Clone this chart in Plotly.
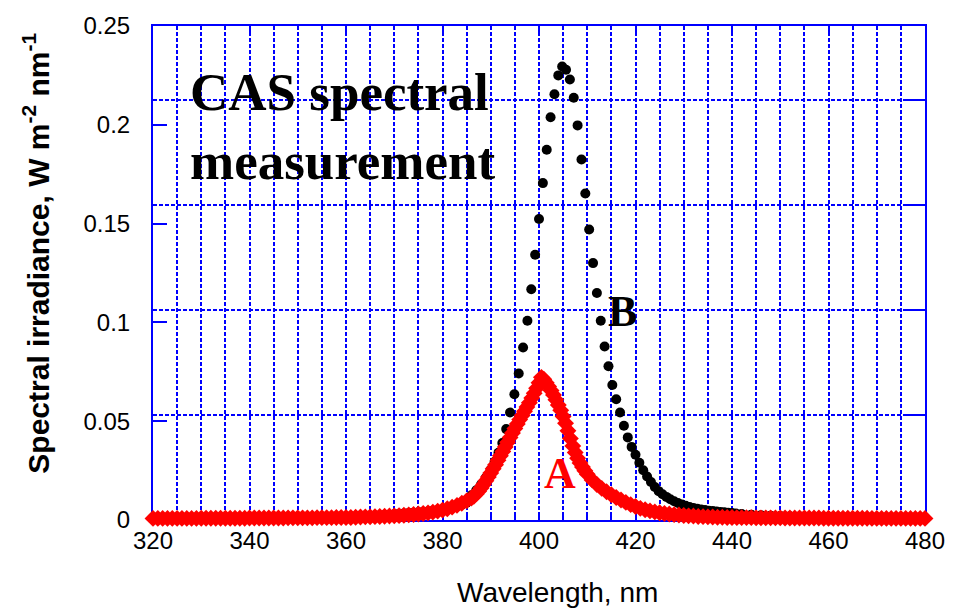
import plotly.graph_objects as go

# ---- Data ----
# Spectrum A (red diamonds)
wl_a = [320, 321, 322, 323, 324, 325, 326, 327, 328, 329,
        330, 331, 332, 333, 334, 335, 336, 337, 338, 339,
        340, 341, 342, 343, 344, 345, 346, 347, 348, 349,
        350, 351, 352, 353, 354, 355, 356, 357, 358, 359,
        360, 361, 362, 363, 364, 365, 366, 367, 368, 369,
        370, 371, 372, 373, 374,
        375, 376, 377, 378, 379, 380, 381, 382, 383, 384, 385,
        386, 386.5, 387, 387.5, 388, 388.5, 389, 389.5, 390, 390.5,
        391, 391.5, 392, 392.5, 393, 393.5, 394, 394.5, 395, 395.5,
        396, 396.5, 397, 397.5, 398, 398.5, 399, 399.5, 400, 400.5,
        401, 401.5, 402, 402.5, 403, 403.5, 404, 404.5, 405, 405.5,
        406, 406.5, 407, 407.5, 408, 408.5, 409, 409.5, 410,
        411, 412, 413, 414, 415, 416, 417, 418, 419, 420,
        421, 422, 423, 424, 425, 426, 427,
        428, 429, 430, 431, 432, 433, 434, 435, 436, 437, 438, 439, 440,
        441, 442, 443, 444, 445, 446, 447, 448, 449, 450,
        451, 452, 453, 454, 455, 456, 457, 458, 459, 460,
        461, 462, 463, 464, 465, 466, 467, 468, 469, 470,
        471, 472, 473, 474, 475, 476, 477, 478, 479, 480]
irr_a = [0.0008, 0.0008, 0.0008, 0.0008, 0.0008, 0.0008, 0.0008, 0.0008, 0.0008, 0.0008,
         0.0009, 0.0009, 0.0009, 0.0009, 0.0009, 0.0009, 0.0009, 0.0009, 0.0009, 0.0009,
         0.0010, 0.0010, 0.0010, 0.0010, 0.0010, 0.0010, 0.0010, 0.0010, 0.0011, 0.0011,
         0.0011, 0.0011, 0.0011, 0.0011, 0.0012, 0.0012, 0.0012, 0.0012, 0.0013, 0.0013,
         0.0013, 0.0013, 0.0014, 0.0015, 0.0016, 0.0016, 0.0017, 0.0018, 0.0019, 0.0020,
         0.0021, 0.0022, 0.0024, 0.0026, 0.0028,
         0.0030, 0.0033, 0.0036, 0.0040, 0.0045, 0.0050, 0.0057, 0.0065, 0.0074, 0.0085, 0.0097,
         0.0111, 0.0120, 0.0132, 0.0146, 0.0162, 0.0180, 0.0199, 0.0218, 0.0238, 0.0259,
         0.0280, 0.0302, 0.0325, 0.0347, 0.0370, 0.0393, 0.0417, 0.0440, 0.0463, 0.0486,
         0.0508, 0.0529, 0.0550, 0.0572, 0.0594, 0.0617, 0.0641, 0.0667, 0.0695, 0.0722,
         0.0712, 0.0695, 0.0676, 0.0655, 0.0633, 0.0608, 0.0582, 0.0555, 0.0524, 0.0490,
         0.0452, 0.0413, 0.0375, 0.0342, 0.0313, 0.0289, 0.0268, 0.0249, 0.0232,
         0.0203, 0.0180, 0.0160, 0.0143, 0.0128, 0.0114, 0.0101, 0.0089, 0.0078, 0.0068,
         0.0059, 0.0052, 0.0046, 0.0041, 0.0037, 0.0033, 0.0030,
         0.0027, 0.0025, 0.0023, 0.0021, 0.0020, 0.0018, 0.0017, 0.0016, 0.0015, 0.0014,
         0.0014, 0.0013, 0.0013,
         0.0012, 0.0012, 0.0012, 0.0012, 0.0011, 0.0011, 0.0011, 0.0011, 0.0011, 0.0011,
         0.0010, 0.0010, 0.0010, 0.0010, 0.0010, 0.0010, 0.0010, 0.0010, 0.0009, 0.0009,
         0.0009, 0.0009, 0.0009, 0.0009, 0.0009, 0.0009, 0.0009, 0.0009, 0.0008, 0.0008,
         0.0008, 0.0008, 0.0008, 0.0008, 0.0008, 0.0008, 0.0008, 0.0008, 0.0008, 0.0008]

# Spectrum B (black dots)
wl_b = [320, 322, 324, 326, 328, 330, 332, 334, 336, 338, 340, 342, 344, 346, 348, 350,
        352, 354, 356, 358, 360, 362, 364, 366, 368, 369, 370, 371, 372, 373, 374, 375, 376,
        377, 378, 379, 380, 381, 382, 383, 384, 385, 386, 387, 388, 389, 390, 390.8, 391.6,
        392.4, 393.2, 394.0, 394.9, 395.8, 396.7, 397.6, 398.4, 399.2, 400.0, 400.8, 401.6,
        402.4, 403.2, 404.0, 404.8, 405.6, 406.4, 407.2, 408.0, 408.8, 409.6, 410.4, 411.2,
        412.0, 412.8, 413.6, 414.4, 415.2, 416.0, 416.8, 417.6, 418.4, 419.2, 420.0, 420.8,
        421.6, 422.4, 423.2, 424.0, 424.8, 425.6, 426.4, 427.2, 428.0, 428.8, 429.6, 430.4,
        431.2, 432.0, 432.8, 433.6, 434.4, 435.2, 436.0, 436.8, 437.6, 438.4, 439.2, 440.0,
        440.8, 442, 444, 446, 448, 450, 452, 454, 456, 458, 460, 462, 464, 466, 468, 470,
        472, 474, 476, 478, 480]
irr_b = [0.0005, 0.0005, 0.0005, 0.0005, 0.0006, 0.0006, 0.0006, 0.0006, 0.0007, 0.0007,
         0.0007, 0.0008, 0.0008, 0.0009, 0.0009, 0.0010, 0.0010, 0.0011, 0.0012, 0.0013,
         0.0014, 0.0016, 0.0019, 0.0022, 0.0025, 0.0027, 0.0029, 0.0031, 0.0033, 0.0035,
         0.0037, 0.0039, 0.0041, 0.0043, 0.0046, 0.0049, 0.0053, 0.0057, 0.0062, 0.0069,
         0.0077, 0.0088, 0.0125, 0.0150, 0.0180, 0.0215, 0.0255, 0.0295, 0.0340, 0.0390,
         0.0460, 0.0544, 0.0636, 0.0741, 0.0873, 0.1008, 0.1168, 0.1342, 0.1523, 0.1705,
         0.1874, 0.2038, 0.2155, 0.2250, 0.2295, 0.2279, 0.2229, 0.2137, 0.1997, 0.1824,
         0.1652, 0.1470, 0.1300, 0.1149, 0.1008, 0.0878, 0.0778, 0.0683, 0.0611, 0.0544,
         0.0477, 0.0418, 0.0370, 0.0330, 0.0290, 0.0252, 0.0220, 0.0192, 0.0167, 0.0146,
         0.0130, 0.0117, 0.0105, 0.0095, 0.0086, 0.0078, 0.0072, 0.0066, 0.0061, 0.0057,
         0.0053, 0.0050, 0.0047, 0.0045, 0.0043, 0.0041, 0.0039, 0.0037, 0.0035, 0.0033,
         0.0030, 0.0027, 0.0024, 0.0022, 0.0020, 0.0019, 0.0018, 0.0017, 0.0016, 0.0015,
         0.0014, 0.0013, 0.0013, 0.0012, 0.0012, 0.0011, 0.0011, 0.0010, 0.0010, 0.0010]

assert len(wl_a) == len(irr_a), (len(wl_a), len(irr_a))
assert len(wl_b) == len(irr_b), (len(wl_b), len(irr_b))

x_ticks = [320, 340, 360, 380, 400, 420, 440, 460, 480]
y_ticks = [0, 0.05, 0.1, 0.15, 0.2, 0.25]

BLUE = "#0000ff"
SANS = "Liberation Sans, Arial, sans-serif"
SERIF = "Liberation Serif, Times New Roman, serif"
DASH = "4px,2px"

fig = go.Figure()
fig.add_trace(go.Scatter(
    x=wl_b, y=irr_b, mode="markers", name="B",
    marker=dict(symbol="circle", size=10, color="black", line=dict(width=0)),
    cliponaxis=False, showlegend=False))
fig.add_trace(go.Scatter(
    x=wl_a, y=irr_a, mode="markers", name="A",
    marker=dict(symbol="diamond", size=13, color="#ff0000", line=dict(width=0)),
    cliponaxis=False, showlegend=False))
# empty trace so the right-hand grid axis is drawn
fig.add_trace(go.Scatter(x=[], y=[], yaxis="y2", showlegend=False, hoverinfo="skip"))

fig.update_layout(
    width=957, height=608,
    margin=dict(l=153, r=23, t=22, b=88),
    paper_bgcolor="white", plot_bgcolor="white",
    font=dict(family=SANS, color="black"),
    xaxis=dict(
        range=[320, 480], tickvals=x_ticks, showline=True, linecolor=BLUE, linewidth=2,
        mirror="ticks", ticks="inside", ticklen=6, tickwidth=2, tickcolor=BLUE,
        showgrid=True, gridcolor=BLUE, griddash=DASH, gridwidth=1.5, zeroline=False,
        minor=dict(dtick=5, tick0=320, showgrid=True, gridcolor=BLUE, griddash=DASH,
                   gridwidth=1.5, ticks="inside", ticklen=4, tickcolor=BLUE, tickwidth=1.5),
        tickfont=dict(size=24, family=SANS, color="black"), ticklabelstandoff=-2,
        layer="below traces",
    ),
    yaxis=dict(
        range=[0, 0.25], tickvals=y_ticks, showline=True, linecolor=BLUE, linewidth=2,
        ticks="inside", ticklen=14, tickwidth=2, tickcolor=BLUE,
        showgrid=False, zeroline=False,
        tickfont=dict(size=24, family=SANS, color="black"), ticklabelstandoff=16,
        layer="below traces",
    ),
    yaxis2=dict(
        overlaying="y", side="right", range=[0, 0.235], tick0=0, dtick=0.05,
        showticklabels=False, ticks="inside", ticklen=18, tickwidth=2, tickcolor=BLUE,
        showgrid=True, gridcolor=BLUE, griddash=DASH, gridwidth=1.5,
        showline=True, linecolor=BLUE, linewidth=2, zeroline=False,
        layer="below traces",
    ),
    annotations=[
        dict(text="<b>CAS spectral<br>measurement</b>", x=327.2, y=0.199, xref="x", yref="y",
             xanchor="left", yanchor="middle", align="left", showarrow=False,
             font=dict(family=SERIF, size=53, color="black")),
        dict(text="<b>B</b>", x=417.3, y=0.1054, xref="x", yref="y", showarrow=False,
             xanchor="center", yanchor="middle",
             font=dict(family=SERIF, size=44, color="black")),
        dict(text="<b>A</b>", x=404.3, y=0.0234, xref="x", yref="y", showarrow=False,
             xanchor="center", yanchor="middle",
             font=dict(family=SERIF, size=44, color="#ff0000")),
        dict(text="<b>Spectral irradiance, W m<sup>-2</sup> nm<sup>-1</sup></b>",
             x=-0.151, y=0.54, xref="paper", yref="paper", textangle=-90,
             xanchor="center", yanchor="middle", showarrow=False,
             font=dict(family=SANS, size=30, color="black")),
        dict(text="Wavelength, nm", x=0.5243, y=-0.146, xref="paper", yref="paper",
             xanchor="center", yanchor="middle", showarrow=False,
             font=dict(family=SANS, size=28, color="black")),
    ],
)

fig.write_html("out.html")
